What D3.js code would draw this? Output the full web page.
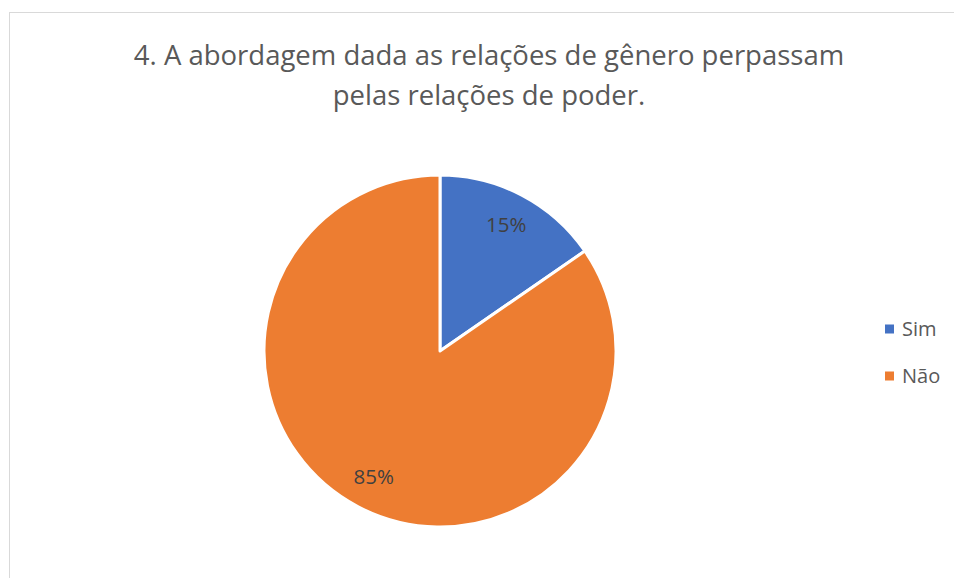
<!DOCTYPE html>
<html>
<head>
<meta charset="utf-8">
<script src="https://cdn.jsdelivr.net/npm/d3@7"></script>
<style>
  body { margin: 0; background: #fff; }
  svg { display: block; font-family: "Open Sans", "Noto Sans", sans-serif; }
</style>
</head>
<body>
<svg id="chart" width="954" height="578"></svg>
<script>
// data
var categories = ['Sim', 'Não'];
var counts = [2, 11];
var colors = ['#4472c4', '#ed7d31'];
var titleLines = ['4. A abordagem dada as relações de gênero perpassam', 'pelas relações de poder.'];

var svg = d3.select('#chart');

// chart area border (runs off the right and bottom edges)
svg.append('rect')
    .attr('x', 9.5)
    .attr('y', 12.5)
    .attr('width', 960)
    .attr('height', 600)
    .attr('fill', '#fff')
    .attr('stroke', '#d9d9d9')
    .attr('stroke-width', 1);

// title
svg.append('g').selectAll('text')
    .data(titleLines)
    .join('text')
    .attr('x', 489)
    .attr('y', (d, i) => 65 + i * 40)
    .attr('text-anchor', 'middle')
    .attr('fill', '#595959')
    .style('font-size', '27.5px')
    .text(d => d);

var cx = 440, cy = 351, r = 176;
var total = d3.sum(counts);

var pie = d3.pie().sort(null).value(d => d);
var arc = d3.arc().innerRadius(0).outerRadius(r);
var labelArc = d3.arc().innerRadius(r * 0.81).outerRadius(r * 0.81);

var g = svg.append('g').attr('transform', 'translate(' + cx + ',' + cy + ')');
var slices = pie(counts);

g.selectAll('path')
    .data(slices)
    .join('path')
    .attr('d', arc)
    .attr('fill', (d, i) => colors[i])
    .attr('stroke', '#fff')
    .attr('stroke-width', 3)
    .attr('stroke-linejoin', 'round');

g.selectAll('text')
    .data(slices)
    .join('text')
    .attr('transform', d => 'translate(' + labelArc.centroid(d) + ')')
    .attr('text-anchor', 'middle')
    .attr('dy', '0.35em')
    .attr('fill', '#404040')
    .style('font-size', '20.5px')
    .text(d => Math.round(d.value / total * 100) + '%');

// legend
var legend = svg.append('g').selectAll('g')
    .data(categories)
    .join('g')
    .attr('transform', (d, i) => 'translate(885,' + (329 + i * 47) + ')');

legend.append('rect')
    .attr('x', 0)
    .attr('y', -4.5)
    .attr('width', 9)
    .attr('height', 9)
    .attr('fill', (d, i) => colors[i]);

legend.append('text')
    .attr('x', 17)
    .attr('dy', '0.35em')
    .attr('fill', '#595959')
    .style('font-size', '20px')
    .text(d => d);
</script>
</body>
</html>
